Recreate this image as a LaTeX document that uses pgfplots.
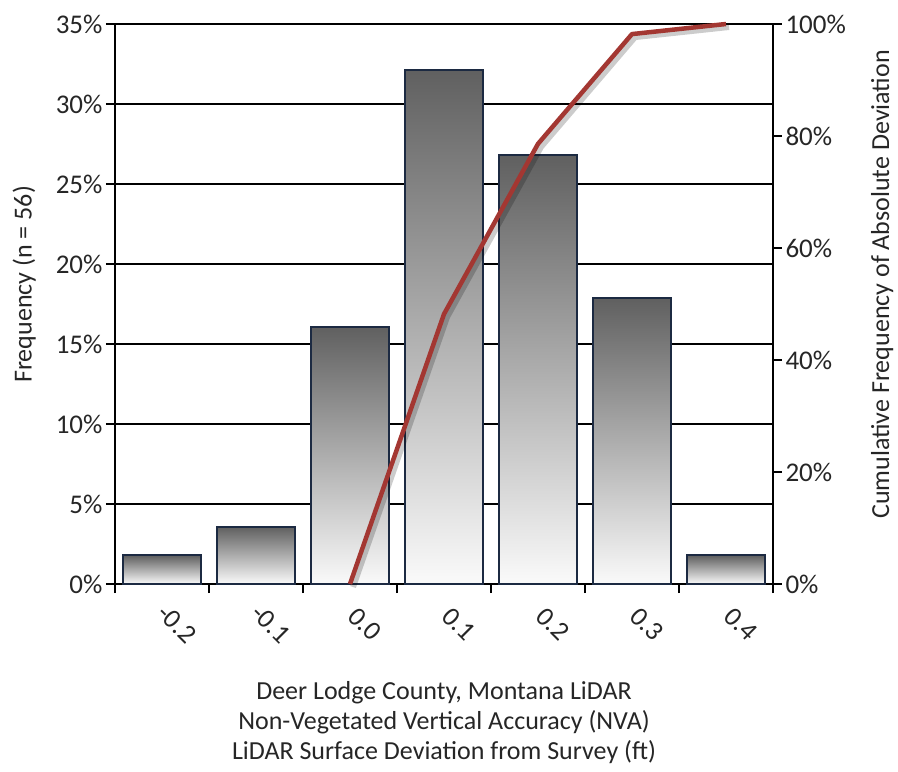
\documentclass[border=0pt]{standalone}
\usepackage{pgfplots}
\pgfplotsset{compat=1.18}
\usepackage{fontspec}
\setmainfont{Carlito}

\definecolor{barline}{RGB}{28,42,66}
\definecolor{cumred}{RGB}{163,55,50}
\definecolor{bartop}{RGB}{96,96,96}
\definecolor{barbot}{RGB}{250,250,250}

\begin{document}
\begin{tikzpicture}
\path[use as bounding box] (-115pt,-188pt) rectangle (783pt,584pt);

\pgfplotsset{
  base/.style={
    width=658pt, height=560pt, scale only axis,
    at={(0,0)}, anchor=south west,
    xmin=-0.5, xmax=6.5,
    tick align=outside,
    major tick length=9pt,
    axis line style={line width=1.5pt, black},
    every tick/.style={line width=1.5pt, black},
    tick label style={font=\fontsize{27}{32}\selectfont, text=black!85,
      /pgf/number format/assume math mode=true},
    label style={font=\fontsize{26}{30}\selectfont, text=black!85},
  },
  % one bar per plot, so that each bar gets its own top-to-bottom shading
  histbar/.style={ybar, bar width=0.84, bar shift=0pt, draw=barline,
    line width=2pt, top color=bartop, bottom color=barbot},
}

% frequency histogram
\begin{axis}[base,
  axis x line*=bottom, axis y line*=left,
  ymin=0, ymax=35, ytick={0,5,...,35},
  yticklabel={\pgfmathprintnumber{\tick}\%},
  ymajorgrids, major grid style={line width=1.5pt, black},
  xtick={-0.5,0.5,...,6.5}, xticklabel=\empty,
  extra x ticks={0,...,6},
  extra x tick labels={-0.2,-0.1,0.0,0.1,0.2,0.3,0.4},
  extra x tick style={major tick length=0pt, grid=none,
    xticklabel style={anchor=center, xshift=15pt, yshift=-40pt, rotate=-45}},
  ylabel={Frequency (n = 56)},
  ylabel style={at={(axis description cs:-0.138,0.535)}, anchor=center},
  xlabel={Deer Lodge County, Montana LiDAR\\Non-Vegetated Vertical Accuracy (NVA)\\LiDAR Surface Deviation from Survey (ft)},
  xlabel style={align=center, at={(axis description cs:0.5,0)}, anchor=center, yshift=-139pt},
]
\addplot[histbar] coordinates {(0,1.786)};
\addplot[histbar] coordinates {(1,3.571)};
\addplot[histbar] coordinates {(2,16.071)};
\addplot[histbar] coordinates {(3,32.143)};
\addplot[histbar] coordinates {(4,26.786)};
\addplot[histbar] coordinates {(5,17.857)};
\addplot[histbar] coordinates {(6,1.786)};
\end{axis}

% cumulative frequency of absolute deviation
\begin{axis}[base,
  axis x line=none, axis y line*=right,
  ymin=0, ymax=100, ytick={0,20,...,100},
  yticklabel={\pgfmathprintnumber{\tick}\%},
  ylabel={Cumulative Frequency of Absolute Deviation},
  ylabel style={at={(axis description cs:1.166,0.535)}, anchor=center},
  clip=false,
]
\addplot[cumred, line width=4.5pt, line join=round,
  preaction={draw=black, opacity=0.2, line width=6pt,
    transform canvas={xshift=3pt, yshift=-3pt}}]
  coordinates {(2,0)(3,48.2)(4,78.6)(5,98.2)(6,100)};
\end{axis}
\end{tikzpicture}
\end{document}
